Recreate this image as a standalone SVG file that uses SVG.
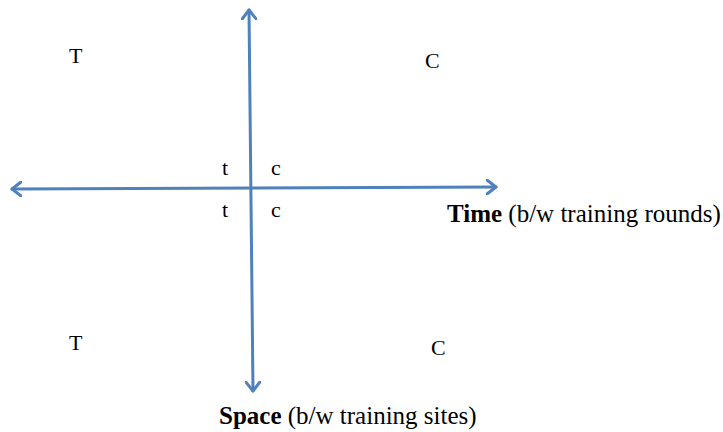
<svg xmlns="http://www.w3.org/2000/svg" width="723" height="432" viewBox="0 0 723 432">
<style>
.ax{stroke:#4f81bd;stroke-width:3;fill:none;stroke-linecap:round}
.lb{font-family:"Liberation Serif","Times New Roman",serif;fill:#000}
.q{font-size:22px}
.al{font-size:25px}
</style>
<defs>
<marker id="ah" viewBox="0 0 12 16" refX="10" refY="8" markerWidth="12" markerHeight="16" markerUnits="userSpaceOnUse" orient="auto-start-reverse">
<polyline points="1,1 10,8 1,15" fill="none" stroke="#4f81bd" stroke-width="3" stroke-linecap="round" stroke-linejoin="round"/>
</marker>
</defs>
<rect width="723" height="432" fill="#fff"/>
<g id="connectors">
<line class="ax" x1="249" y1="10" x2="253" y2="391" marker-start="url(#ah)" marker-end="url(#ah)"/>
<line class="ax" x1="12" y1="189" x2="496" y2="187" marker-start="url(#ah)" marker-end="url(#ah)"/>
</g>
<g id="quadrant-labels" class="lb q">
<text x="69" y="63">T</text>
<text x="425" y="68">C</text>
<text x="69" y="350">T</text>
<text x="431" y="355">C</text>
<text x="222" y="175">t</text>
<text x="271" y="175">c</text>
<text x="222" y="217">t</text>
<text x="271" y="217">c</text>
</g>
<g id="time-label" class="lb al">
<text x="447" y="222"><tspan font-weight="bold">Time</tspan> (b/w training rounds)</text>
</g>
<g id="space-label" class="lb al">
<text x="219" y="424"><tspan font-weight="bold">Space</tspan> (b/w training sites)</text>
</g>
</svg>
